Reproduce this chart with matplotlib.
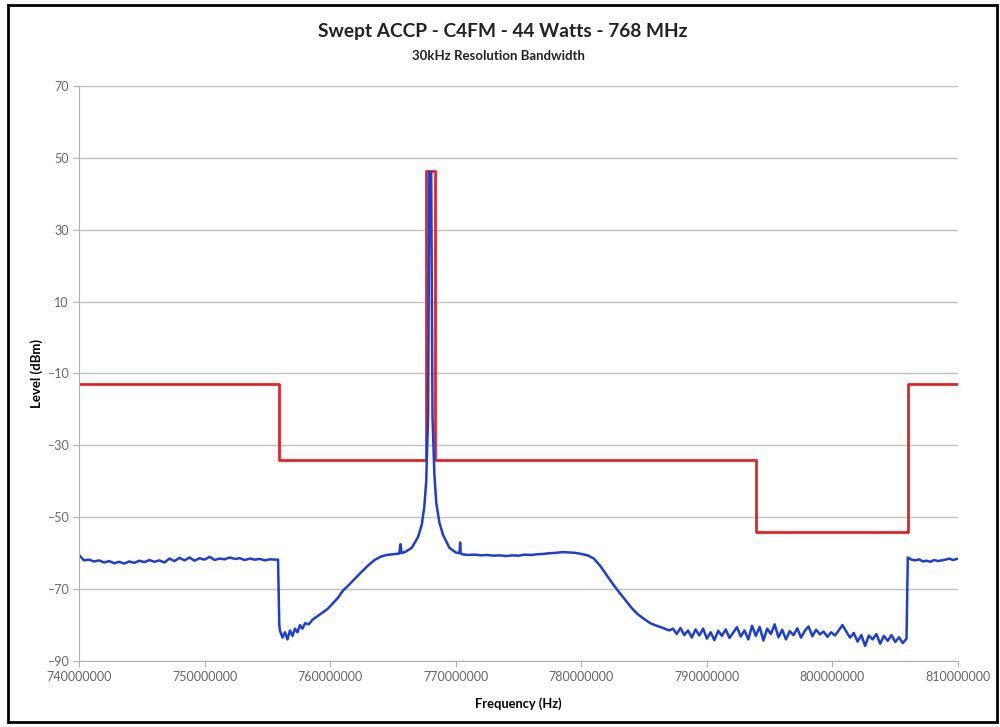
import numpy as np
from matplotlib import pyplot as plt
from matplotlib.patches import Rectangle

plt.rcParams['font.family'] = ['Lato', 'DejaVu Sans']

# Mascara (limite) - degraus em MHz / dBm
mask_freq = [740.0, 755.95, 755.95, 767.65, 767.65, 768.35, 768.35, 793.9, 793.9, 806.0, 806.0, 810.0]
mask_level = [-13, -13, -34, -34, 46.4, 46.4, -34, -34, -54, -54, -13, -13]

# Traço medido (azul) - lido do gráfico, por trechos
# trecho 1: ruído antes da primeira queda (740.0 a 755.6 MHz, passo 0.4)
freq_a = np.arange(740.0, 755.7, 0.4)
level_a = [-60.5, -62.0, -61.8, -62.3, -62.0, -62.6, -62.2, -62.8, -62.4, -62.9,
           -62.3, -62.7, -62.1, -62.5, -61.9, -62.4, -62.0, -62.6, -61.5, -62.2,
           -61.3, -62.0, -61.2, -62.1, -61.4, -61.8, -61.0, -61.9, -61.5, -61.7,
           -61.2, -61.6, -61.4, -61.9, -61.5, -61.8, -61.6, -62.0, -61.7, -61.8]

# trecho 2: queda, subida e portadora
freq_b = [755.85, 755.95, 756.0, 756.2, 756.4, 756.6, 756.8, 757.0, 757.2, 757.4,
          757.6, 757.8, 758.0, 758.3, 758.6, 759.0, 759.4, 759.8, 760.2, 760.6,
          761.0, 761.5, 762.0, 762.5, 763.0, 763.5, 764.0, 764.5, 765.0, 765.5,
          765.6, 765.7, 766.0, 766.5, 767.0, 767.3, 767.5, 767.65, 767.8, 767.9,
          768.05, 768.15, 768.3, 768.45, 768.7, 769.0, 769.5, 770.0, 770.3, 770.35,
          770.4]
level_b = [-61.8, -80.0, -81.5, -83.5, -82.0, -84.0, -81.5, -83.0, -81.0, -82.0,
           -80.0, -81.0, -79.5, -79.8, -78.5, -77.5, -76.5, -75.5, -74.0, -72.5,
           -70.5, -68.8, -67.0, -65.2, -63.5, -62.0, -61.0, -60.5, -60.3, -60.1,
           -57.5, -60.0, -59.6, -58.5, -55.5, -52.0, -47.0, -40.0, -22.0, 46.0,
           46.0, -22.0, -38.0, -46.0, -51.5, -55.0, -58.5, -59.8, -60.0, -57.0,
           -60.0]

# trecho 3: patamar e queda do lado direito
freq_c = [770.5, 771.0, 771.5, 772.0, 772.5, 773.0, 773.5, 774.0, 774.5, 775.0,
          775.5, 776.0, 776.5, 777.0, 777.5, 778.0, 778.5, 779.0, 779.5, 780.0,
          780.5, 781.0, 781.5, 782.0, 782.5, 783.0, 783.5, 784.0, 784.5, 785.0,
          785.5, 786.0, 786.5, 787.0]
level_c = [-60.3, -60.5, -60.4, -60.6, -60.5, -60.7, -60.6, -60.8, -60.6, -60.7,
           -60.4, -60.5, -60.3, -60.2, -60.0, -59.9, -59.7, -59.8, -59.9, -60.2,
           -60.6, -61.5, -63.5, -66.0, -68.5, -70.8, -73.0, -75.2, -77.0, -78.3,
           -79.5, -80.2, -80.8, -81.5]

# trecho 4: ruído no fundo (787.3 a 805.9 MHz, passo 0.3)
freq_d = np.arange(787.3, 805.95, 0.3)
level_d = [-81.0, -82.5, -80.8, -82.8, -81.5, -83.5, -81.2, -82.9, -81.0, -83.8,
           -82.0, -84.2, -81.6, -83.0, -81.2, -83.6, -82.1, -80.6, -83.2, -81.5,
           -84.0, -80.2, -83.0, -80.5, -84.3, -81.0, -82.5, -79.8, -83.4, -81.3,
           -84.0, -81.7, -82.8, -80.9, -83.5, -81.6, -80.4, -83.1, -81.3, -82.6,
           -81.8, -83.3, -82.0, -82.9, -81.5, -80.0, -81.8, -83.5, -82.2, -84.6,
           -82.8, -85.8, -82.9, -84.0, -82.5, -85.2, -83.0, -84.4, -82.8, -84.7,
           -83.4, -85.0, -83.8]

# trecho 5: depois do último degrau
freq_e = np.arange(806.0, 810.01, 0.3)
level_e = [-61.2, -61.8, -62.0, -61.7, -62.3, -62.1, -62.4, -61.9, -62.2, -62.0,
           -61.8, -61.5, -61.9, -61.6]

blue_freq = np.concatenate([freq_a, freq_b, freq_c, freq_d, freq_e]) * 1e6
blue_level = np.concatenate([level_a, level_b, level_c, level_d, level_e])

fig = plt.figure(figsize=(10, 7.27), dpi=100)
ax = fig.add_axes([0.079, 0.0908, 0.879, 0.7909])

ax.plot(np.array(mask_freq) * 1e6, mask_level, color='#e32228', linewidth=2.0)
ax.plot(blue_freq, blue_level, color='#1c3fd2', linewidth=1.8)

ax.set_xlim(740000000, 810000000)
ax.set_ylim(-90, 70)
ax.set_xticks(np.arange(740000000, 810000001, 10000000))
ax.set_yticks(range(-90, 71, 20))
ax.ticklabel_format(style='plain', useOffset=False)
ax.grid(axis='y', color='#c0c0c0', linewidth=1)
ax.set_axisbelow(True)

for lado in ['top', 'right']:
    ax.spines[lado].set_visible(False)
for lado in ['left', 'bottom']:
    ax.spines[lado].set_color('#b0b0b0')
ax.tick_params(colors='#b0b0b0', labelcolor='#666666', labelsize=9, length=4)

ax.set_xlabel('Frequency (Hz)', fontsize=9.3, fontweight='bold', labelpad=10)
ax.set_ylabel('Level (dBm)', fontsize=9.5, fontweight='bold', labelpad=3)

fig.text(0.503, 0.957, 'Swept ACCP - C4FM - 44 Watts - 768 MHz', ha='center', va='center',
         fontsize=13.8, fontweight='bold', color='#222222')
fig.text(0.498, 0.923, '30kHz Resolution Bandwidth', ha='center', va='center',
         fontsize=9.5, fontweight='bold', color='#222222')

# moldura preta em volta de tudo
fig.patches.append(Rectangle((0.008, 0.007), 0.989, 0.986, transform=fig.transFigure,
                             fill=False, edgecolor='black', linewidth=2))

fig.savefig('out.png', dpi=100)
